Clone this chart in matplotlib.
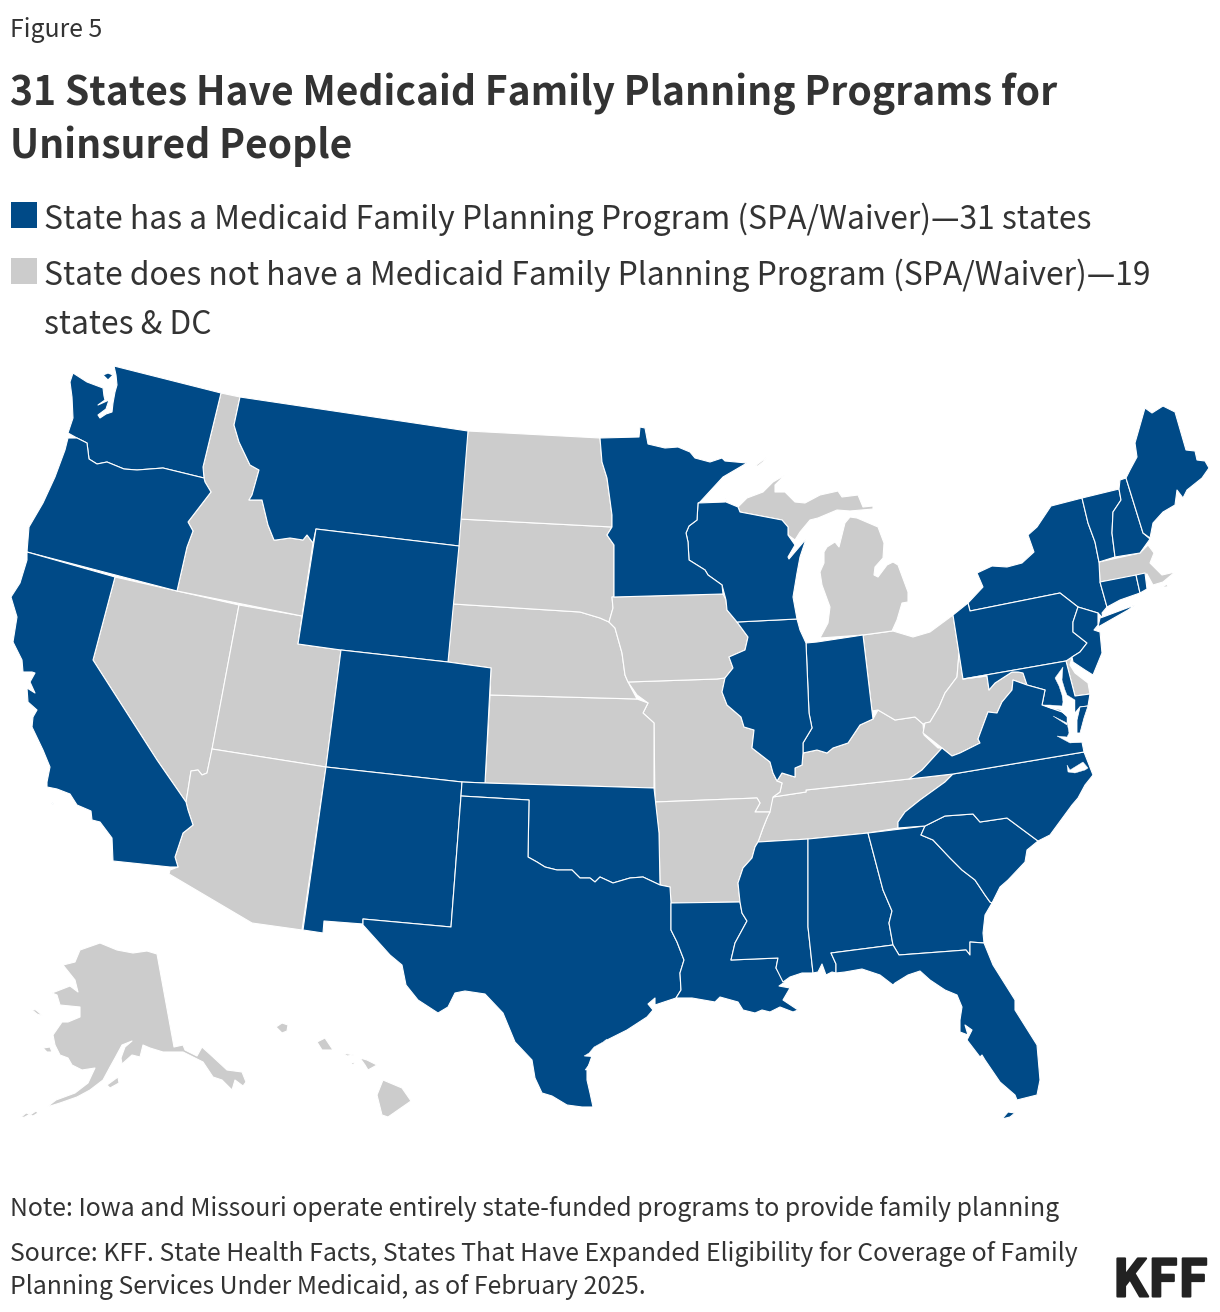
import matplotlib
matplotlib.use("Agg")
import matplotlib.pyplot as plt
import matplotlib.patheffects as pe
from matplotlib.patches import Polygon, Rectangle

plt.rcParams["font.family"] = ["Noto Sans CJK JP", "DejaVu Sans"]

BLUE = "#004A87"
GRAY = "#CCCCCC"
TEXT = "#333333"

# state outlines (x, y in image pixels)
WA = [(73,373),(70,382),(72,397),(73,418),(68,433),(77,438),(87,443),(89,459),(97,464),(107,462),(124,469),(137,470),(163,468),(204,478),(203,467),(221,393),(114,366),(116,375),(117,385),(115,392),(113,403),(112,412),(106,414),(100,418),(98,415),(106,409),(109,400),(98,405),(105,400),(104,396),(103,388),(87,382)]
WA_ISLE = [(103,375),(108,373),(113,375),(108,380)]
OR = [(68,438),(77,438),(87,443),(89,459),(97,464),(107,462),(124,469),(137,470),(163,468),(204,478),(205,482),(211,492),(188,522),(193,531),(187,547),(177,591),(27,552),(29,527),(43,503),(55,477),(65,450)]
CA = [(27,552),(115,577),(93,660),(157,760),(186,802),(188,810),(193,825),(183,833),(175,857),(178,867),(170,867),(113,861),(112,838),(100,822),(92,820),(91,811),(77,805),(70,794),(57,789),(47,787),(47,782),(50,767),(43,750),(32,727),(33,717),(37,710),(28,702),(27,688),(35,693),(30,682),(35,673),(32,672),(23,672),(22,660),(13,642),(17,617),(11,597),(20,583),(27,560)]
NV = [(115,577),(239,605),(212,750),(207,773),(202,775),(198,770),(191,771),(188,790),(186,802),(157,760),(93,660)]
UT = [(239,605),(302,616),(298,644),(341,650),(326,767),(212,749)]
AZ = [(212,749),(326,767),(302,930),(252,923),(169,874),(170,870),(178,867),(175,857),(183,833),(193,825),(188,810),(186,802),(188,790),(191,771),(198,770),(202,775),(207,773)]
ID = [(221,393),(240,397),(234,425),(239,442),(250,465),(259,470),(252,495),(249,500),(262,500),(268,525),(274,540),(276,540),(290,538),(303,540),(307,535),(313,543),(302,616),(177,591),(187,547),(193,531),(188,522),(211,492),(205,482),(204,478),(203,467)]
MT = [(240,397),(468,431),(459,546),(316,529),(313,543),(307,535),(303,540),(290,538),(276,540),(274,540),(268,525),(262,500),(249,500),(252,495),(259,470),(250,465),(239,442),(234,425)]
WY = [(316,529),(459,546),(448,662),(341,650),(298,644)]
CO = [(341,650),(448,662),(491,668),(485,783),(462,782),(326,767)]
NM = [(326,767),(462,782),(461,796),(451,927),(363,919),(363,924),(324,921),(323,933),(303,930)]
OK = [(462,782),(485,783),(654,788),(659,833),(660,885),(643,877),(630,878),(613,883),(600,877),(595,882),(590,878),(580,878),(572,870),(557,870),(545,867),(537,862),(528,857),(529,800),(461,796)]
TX = [(461,796),(529,800),(528,857),(537,862),(545,867),(557,870),(572,870),(580,878),(590,878),(595,882),(600,877),(613,883),(630,878),(643,877),(660,885),(670,887),(671,903),(671,930),(677,942),(684,960),(680,973),(681,990),(676,998),(655,1005),(655,998),(648,1004),(653,1010),(647,1017),(627,1030),(607,1040),(593,1053),(587,1070),(587,1080),(590,1093),(593,1107),(582,1107),(567,1105),(552,1096),(542,1093),(535,1078),(532,1060),(515,1042),(503,1013),(485,994),(465,991),(455,993),(448,1007),(438,1013),(418,1000),(406,985),(402,965),(390,955),(372,935),(363,925),(363,919),(451,927)]
LA = [(671,903),(740,902),(742,913),(747,921),(735,943),(731,960),(778,958),(776,968),(785,982),(779,986),(790,988),(783,1000),(798,1010),(793,1012),(780,1007),(770,1012),(762,1010),(755,1013),(743,1010),(738,1002),(720,997),(715,1002),(692,998),(676,998),(681,990),(680,973),(684,960),(677,942),(671,930)]
MS = [(758,842),(808,839),(808,927),(813,973),(802,973),(790,977),(783,982),(776,968),(778,958),(731,960),(735,943),(747,921),(742,913),(740,902),(738,883),(743,868),(752,858),(755,847)]
AL = [(808,839),(868,833),(883,890),(892,911),(889,923),(893,945),(831,953),(836,964),(836,973),(832,972),(826,975),(822,964),(818,972),(813,973),(808,927)]
GA = [(868,833),(925,826),(921,835),(933,840),(950,858),(962,870),(975,880),(985,895),(990,902),(992,903),(985,915),(983,933),(984,943),(970,942),(970,955),(966,950),(899,955),(893,945),(889,923),(892,911),(883,890)]
FL = [(831,953),(893,945),(899,955),(966,950),(970,955),(970,942),(984,943),(993,965),(1015,1000),(1015,1010),(1037,1045),(1040,1080),(1037,1095),(1017,1100),(1015,1095),(1000,1082),(985,1060),(982,1055),(980,1057),(967,1040),(972,1030),(965,1025),(968,1035),(960,1032),(960,1020),(962,1007),(957,995),(945,990),(930,980),(920,971),(908,975),(895,983),(893,985),(880,975),(862,969),(845,972),(836,973),(836,964)]
FL_KEYS = [(1002,1119),(1008,1112),(1015,1113),(1010,1117)]
SC = [(921,835),(925,826),(945,816),(973,814),(980,822),(1007,818),(1038,841),(1027,850),(1025,862),(1008,880),(1000,887),(992,903),(990,902),(985,895),(975,880),(962,870),(950,858),(933,840)]
NC = [(953,774),(1084,752),(1093,775),(1085,785),(1078,798),(1072,805),(1050,835),(1038,841),(1007,818),(980,822),(973,814),(945,816),(925,826),(898,828),(898,822),(905,812),(920,800),(945,782)]
TN = [(953,774),(945,782),(920,800),(905,812),(898,822),(898,828),(868,833),(808,839),(758,842),(763,828),(767,818),(773,797),(806,792),(806,790),(909,779)]
KY = [(773,797),(780,792),(782,783),(777,781),(782,773),(795,777),(795,768),(802,765),(803,753),(817,750),(827,753),(833,748),(848,743),(860,725),(873,719),(878,710),(895,720),(915,717),(923,724),(924,735),(938,748),(942,748),(922,770),(909,779),(806,790),(806,792)]
OH = [(863,635),(893,631),(913,637),(930,632),(953,615),(959,653),(957,677),(945,693),(939,707),(930,722),(923,724),(915,717),(895,720),(878,710),(872,711)]
IN = [(806,643),(817,642),(863,635),(872,711),(873,719),(860,725),(848,743),(833,748),(827,753),(817,750),(803,753),(803,743),(812,728),(809,713)]
IL = [(737,622),(797,619),(800,630),(806,643),(809,713),(812,728),(803,743),(803,753),(802,765),(795,768),(795,777),(782,773),(777,781),(773,773),(770,762),(752,748),(754,730),(744,727),(741,717),(727,705),(722,692),(725,678),(733,668),(729,657),(745,650),(748,637)]
WI = [(698,503),(725,502),(727,495),(726,502),(738,507),(740,512),(782,520),(788,527),(788,535),(795,545),(788,557),(789,559),(806,539),(800,557),(797,573),(793,597),(797,619),(737,622),(727,610),(726,600),(722,585),(708,575),(705,570),(689,560),(688,542),(686,533),(689,526),(697,520)]
MN = [(600,438),(639,437),(640,427),(645,428),(648,444),(665,448),(678,447),(690,452),(695,458),(710,462),(722,458),(725,461),(747,463),(723,477),(700,502),(698,503),(697,520),(689,526),(686,533),(688,542),(689,560),(705,570),(708,575),(722,585),(723,594),(614,597),(614,545),(607,535),(612,527),(612,515),(607,478),(602,462)]
IA = [(612,597),(723,594),(726,600),(727,610),(737,622),(748,637),(745,650),(729,657),(733,668),(725,678),(717,679),(628,682),(625,675),(622,653),(615,628),(609,622),(613,608)]
MO = [(628,682),(717,679),(725,678),(722,692),(727,705),(741,717),(744,727),(754,730),(752,748),(770,762),(773,773),(777,781),(782,783),(780,792),(773,797),(770,812),(755,812),(760,803),(757,798),(655,802),(654,723),(643,713),(648,703),(637,695)]
AR = [(655,802),(757,798),(760,803),(755,812),(770,812),(767,818),(763,828),(758,842),(755,847),(752,858),(743,868),(738,883),(740,902),(671,903),(670,887),(660,885),(659,833)]
KS = [(490,695),(637,699),(648,703),(643,713),(654,723),(654,788),(485,783)]
NE = [(453,604),(580,612),(600,618),(609,622),(615,628),(622,653),(625,675),(628,682),(637,699),(490,695),(491,668),(448,662)]
SD = [(459,519),(612,527),(607,535),(614,545),(614,597),(612,597),(613,608),(609,622),(600,618),(580,612),(453,604)]
ND = [(468,431),(600,438),(602,462),(607,478),(612,515),(612,527),(459,519)]
MI_LP = [(820,638),(863,635),(892,631),(897,620),(902,603),(908,602),(908,592),(898,565),(893,562),(887,565),(878,577),(874,575),(875,567),(883,558),(884,543),(878,527),(857,518),(850,517),(845,523),(839,547),(835,542),(827,547),(824,552),(824,563),(820,572),(822,585),(830,607),(828,623)]
MI_UP = [(738,507),(747,498),(763,492),(773,482),(785,475),(775,485),(775,492),(785,492),(795,502),(805,503),(820,495),(838,491),(842,497),(858,495),(863,507),(873,506),(873,509),(850,511),(837,510),(818,518),(810,520),(800,532),(795,540),(788,535),(788,527),(782,520),(740,512)]
MI_ISLE = [(755,466),(767,457),(763,462),(758,466)]
NY = [(968,603),(983,587),(977,573),(992,566),(1007,567),(1022,563),(1034,552),(1028,535),(1037,527),(1051,506),(1082,498),(1088,523),(1095,542),(1099,562),(1100,582),(1107,607),(1102,613),(1103,618),(1098,613),(1078,607),(1069,600),(1060,593),(970,611)]
NY_LI = [(1103,617),(1135,605),(1128,610),(1098,627),(1100,618)]
PA = [(953,615),(968,603),(970,611),(1060,593),(1069,600),(1078,607),(1073,622),(1073,632),(1087,643),(1080,652),(1072,657),(1066,661),(963,679)]
NJ = [(1078,607),(1098,613),(1098,625),(1094,630),(1100,632),(1102,653),(1093,675),(1085,670),(1073,662),(1072,657),(1080,652),(1087,643),(1073,632),(1073,622)]
DE = [(1066,661),(1072,657),(1070,665),(1075,673),(1088,683),(1090,694),(1075,696)]
MD = [(963,679),(1066,661),(1075,696),(1090,694),(1088,706),(1080,707),(1075,713),(1068,716),(1062,712),(1042,705),(1045,690),(1027,685),(1023,673),(1018,672),(1012,672),(995,683),(989,690),(987,676)]
VA = [(909,779),(922,770),(942,748),(952,756),(960,753),(980,743),(978,739),(988,712),(997,713),(1002,702),(1012,690),(1013,680),(1027,685),(1045,690),(1042,705),(1062,712),(1068,716),(1072,742),(1082,742),(1084,752),(953,774)]
VA_SHORE = [(1080,707),(1088,706),(1084,718),(1080,733),(1077,733),(1077,720)]
WV = [(959,653),(963,679),(987,676),(989,690),(995,683),(1012,672),(1018,672),(1023,673),(1027,685),(1013,680),(1012,690),(1002,702),(997,713),(988,712),(978,739),(980,743),(960,753),(952,756),(942,748),(923,733),(925,723),(930,722),(939,707),(945,693),(957,677)]
DC = [(1043,688),(1047,690),(1045,693)]
VT = [(1082,498),(1119,489),(1121,500),(1113,512),(1112,533),(1115,557),(1099,562),(1095,542),(1088,523)]
NH = [(1119,489),(1120,480),(1126,478),(1143,533),(1150,539),(1140,553),(1115,557),(1112,533),(1113,512),(1121,500)]
ME = [(1126,478),(1130,470),(1137,457),(1135,443),(1145,408),(1152,413),(1163,406),(1175,412),(1186,450),(1195,451),(1197,460),(1205,461),(1209,468),(1202,478),(1187,490),(1183,498),(1177,490),(1175,505),(1163,512),(1153,523),(1150,538),(1143,533)]
MA = [(1099,562),(1140,553),(1148,545),(1154,553),(1150,563),(1162,575),(1175,572),(1163,582),(1153,585),(1147,574),(1100,582)]
MA_ISLE = [(1161,587),(1168,584),(1167,587)]
CT = [(1100,582),(1136,575),(1140,593),(1120,600),(1107,607)]
RI = [(1136,575),(1145,573),(1147,589),(1140,593)]
AK = [(157,954),(174,1047),(183,1045),(185,1050),(197,1056),(202,1047),(213,1057),(227,1070),(242,1072),(246,1082),(243,1086),(235,1080),(232,1090),(222,1080),(213,1077),(203,1062),(183,1052),(163,1052),(150,1048),(143,1045),(140,1057),(132,1055),(122,1064),(121,1058),(125,1047),(132,1041),(122,1045),(115,1058),(110,1067),(103,1080),(90,1090),(77,1097),(60,1103),(47,1107),(56,1100),(75,1093),(88,1083),(95,1068),(82,1070),(72,1065),(68,1058),(60,1055),(55,1045),(53,1035),(62,1022),(68,1022),(80,1017),(80,1007),(60,1005),(57,995),(52,993),(70,986),(78,992),(75,980),(63,965),(75,962),(80,950),(100,943),(117,950),(133,953),(147,951)]
AK_ISLE1 = [(31,1009),(36,1010),(43,1016),(37,1014)]
AK_ISLE2 = [(43,1048),(50,1047),(52,1052),(47,1052)]
AK_ISLE3 = [(107,1085),(118,1077),(119,1083),(110,1088)]
AK_ALEUT1 = [(20,1118),(26,1113),(30,1114),(25,1117)]
AK_ALEUT2 = [(30,1115),(36,1111),(38,1113),(33,1116)]
HI_KAUAI = [(276,1027),(282,1023),(288,1025),(287,1031),(282,1033)]
HI_OAHU = [(317,1042),(325,1038),(333,1050),(322,1050)]
HI_MOLOKAI = [(343,1053),(354,1055),(347,1056)]
HI_LANAI = [(350,1062),(355,1063),(353,1065)]
HI_MAUI = [(360,1058),(367,1060),(377,1065),(368,1070),(365,1065)]
HI_BIG = [(383,1080),(402,1088),(411,1101),(388,1117),(382,1115),(377,1095)]
CA_ISLE = [(51,802),(54,804),(53,805)]

# inlets laid over the land
CHESAPEAKE = [(1063,667),(1055,678),(1059,686),(1062,695),(1063,702),(1062,706),(1050,705),(1043,705),(1050,708),(1060,710),(1067,717),(1067,722),(1069,733),(1067,737),(1057,736),(1070,743),(1082,742),(1077,733),(1077,720),(1080,708),(1075,713),(1075,700),(1067,695),(1065,690),(1062,680)]
RAPPAHANNOCK = [(1053,716),(1067,725),(1067,723)]
PAMLICO = [(1067,765),(1070,770),(1083,762),(1088,768),(1085,770),(1075,773),(1068,772)]
TX_BAY = [(607,1039),(603,1042),(594,1047),(589,1053),(584,1056),(592,1057),(590,1063),(585,1070),(588,1070),(594,1055)]

blue_states = [WA, WA_ISLE, OR, CA, CA_ISLE, MT, WY, CO, NM, OK, TX, LA, MS, AL, GA, FL, FL_KEYS, SC, NC,
               IN, IL, WI, MN, NY, NY_LI, PA, NJ, MD, VA, VT, NH, ME, CT, RI]
gray_states = [NV, UT, AZ, ID, TN, KY, OH, MO, AR, KS, NE, SD, ND, IA, MI_LP, MI_UP, MI_ISLE,
               DE, WV, DC, MA, MA_ISLE, AK, AK_ISLE1, AK_ISLE2, AK_ISLE3, AK_ALEUT1, AK_ALEUT2,
               HI_KAUAI, HI_OAHU, HI_MOLOKAI, HI_LANAI, HI_MAUI, HI_BIG]
water = [CHESAPEAKE, RAPPAHANNOCK, PAMLICO, TX_BAY]

legend_labels = ["State has a Medicaid Family Planning Program (SPA/Waiver)—31 states",
                 "State does not have a Medicaid Family Planning Program (SPA/Waiver)—19",
                 "states & DC"]
title_lines = ["31 States Have Medicaid Family Planning Programs for", "Uninsured People"]
note = "Note: Iowa and Missouri operate entirely state-funded programs to provide family planning"
source_lines = ["Source: KFF. State Health Facts, States That Have Expanded Eligibility for Coverage of Family",
                "Planning Services Under Medicaid, as of February 2025."]

fig = plt.figure(figsize=(12.2, 13.12), dpi=100)
ax = fig.add_axes([0, 0, 1, 1])
ax.set_xlim(0, 1220)
ax.set_ylim(1312, 0)
ax.axis("off")

for s in gray_states:
    ax.add_patch(Polygon(s, closed=True, facecolor=GRAY, edgecolor="white", linewidth=0.8, joinstyle="round"))
for s in blue_states:
    ax.add_patch(Polygon(s, closed=True, facecolor=BLUE, edgecolor="white", linewidth=0.8, joinstyle="round"))
for s in water:
    ax.add_patch(Polygon(s, closed=True, facecolor="white", edgecolor="white", linewidth=0.3))
# the eastern shore sits on top of the bay
ax.add_patch(Polygon(VA_SHORE, closed=True, facecolor=BLUE, edgecolor="white", linewidth=0.6))

ax.text(10.5, 30, "Figure 5", fontsize=17.9, color=TEXT, va="center")
ax.text(10.5, 94, title_lines[0], fontsize=28.1, fontweight="bold", color=TEXT, va="center")
ax.text(10.5, 146, title_lines[1], fontsize=28.1, fontweight="bold", color=TEXT, va="center")

ax.add_patch(Rectangle((11, 202), 26, 26, facecolor=BLUE, edgecolor="none"))
ax.add_patch(Rectangle((11, 258), 26, 26, facecolor=GRAY, edgecolor="none"))
ax.text(44.5, 219, legend_labels[0], fontsize=22.95, color=TEXT, va="center")
ax.text(44.5, 275, legend_labels[1], fontsize=22.95, color=TEXT, va="center")
ax.text(44.5, 325, legend_labels[2], fontsize=22.95, color=TEXT, va="center")

ax.text(10.5, 1209, note, fontsize=17.9, color=TEXT, va="center")
ax.text(10.5, 1254, source_lines[0], fontsize=17.9, color=TEXT, va="center")
ax.text(10.5, 1287, source_lines[1], fontsize=17.9, color=TEXT, va="center")
ax.text(1208, 1281, "KFF", fontsize=37, fontweight="bold", color="#222222", va="center", ha="right",
        path_effects=[pe.withStroke(linewidth=1.5, foreground="#222222")])

fig.savefig("out.png", dpi=100)
plt.close(fig)
